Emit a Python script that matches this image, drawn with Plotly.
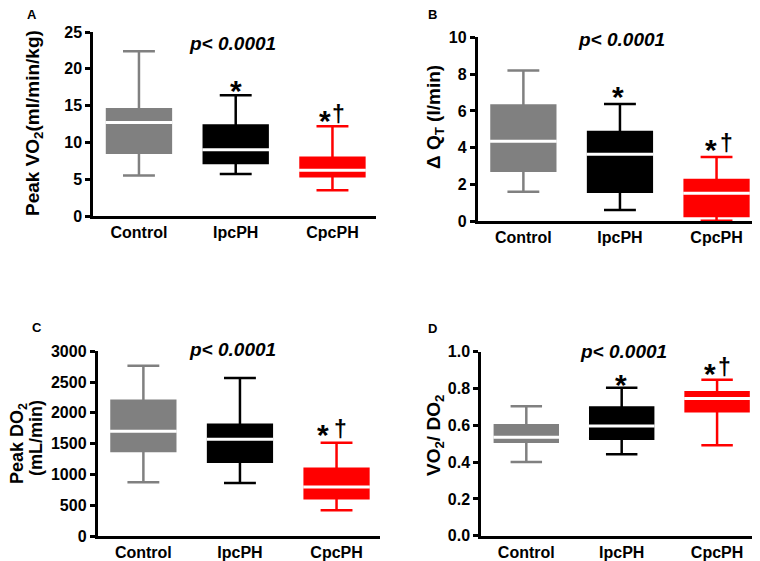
import plotly.graph_objects as go

# the page body has an 8px margin, so the figure is drawn 8px smaller and
# reference pixel positions are shifted by that offset
OFF = 8
W, H = 760 - OFF, 561 - OFF

categories = ["Control", "IpcPH", "CpcPH"]
colors = ["#808080", "#000000", "#ff0000"]

# Panel A: Peak VO2 (ml/min/kg)
a_min = [5.5, 5.7, 3.5]
a_q1 = [8.6, 7.2, 5.4]
a_med = [12.7, 9.0, 6.2]
a_q3 = [14.5, 12.3, 7.9]
a_max = [22.4, 16.4, 12.2]
a_ticks = [0, 5, 10, 15, 20, 25]

# Panel B: delta QT (l/min)
b_min = [1.6, 0.62, 0.03]
b_q1 = [2.75, 1.6, 0.29]
b_med = [4.35, 3.65, 1.52]
b_q3 = [6.3, 4.85, 2.25]
b_max = [8.2, 6.37, 3.5]
b_ticks = [0, 2, 4, 6, 8, 10]

# Panel C: Peak DO2 (mL/min)
c_min = [875, 860, 420]
c_q1 = [1380, 1208, 612]
c_med = [1700, 1570, 796]
c_q3 = [2198, 1809, 1094]
c_max = [2767, 2567, 1516]
c_ticks = [0, 500, 1000, 1500, 2000, 2500, 3000]

# Panel D: VO2 / DO2
d_min = [0.40, 0.442, 0.491]
d_q1 = [0.511, 0.527, 0.676]
d_med = [0.535, 0.596, 0.746]
d_q3 = [0.600, 0.697, 0.779]
d_max = [0.703, 0.804, 0.848]
d_ticks = [0.0, 0.2, 0.4, 0.6, 0.8, 1.0]

p_text = "p< 0.0001"

FONT = "Liberation Sans, Arial, sans-serif"


def px(x):
    return (x - OFF) / W


def py(y):
    return 1 - (y - OFF) / H


panels = [
    dict(name="A", mins=a_min, q1=a_q1, med=a_med, q3=a_q3, maxs=a_max, ticks=a_ticks,
         fmt="",
         dom_x=[px(93), px(376)], dom_y=[py(216), py(32)],
         letter=(32, 14), ptxt=(232, 43),
         titles=[("Peak VO<sub>2</sub>(ml/min/kg)", (34, 123))],
         marks=[("*", (236, 85)), ("*", (325, 114.5)), ("†", (338, 114))]),
    dict(name="B", mins=b_min, q1=b_q1, med=b_med, q3=b_q3, maxs=b_max, ticks=b_ticks,
         fmt="",
         dom_x=[px(477.5), px(760)], dom_y=[py(221.3), py(37.3)],
         letter=(432, 14), ptxt=(621, 40),
         titles=[("Δ Q<sub>T</sub> (l/min)", (435, 117))],
         marks=[("*", (618, 90)), ("*", (711, 144)), ("†", (726, 143))]),
    dict(name="C", mins=c_min, q1=c_q1, med=c_med, q3=c_q3, maxs=c_max, ticks=c_ticks,
         fmt="",
         dom_x=[px(97.5), px(380)], dom_y=[py(536), py(351.3)],
         letter=(37, 327), ptxt=(232, 349),
         titles=[("Peak DO<sub>2</sub>", (18, 444)), ("(mL/min)", (36, 438))],
         marks=[("*", (323, 428.5)), ("†", (340.5, 428.5))]),
    dict(name="D", mins=d_min, q1=d_q1, med=d_med, q3=d_q3, maxs=d_max, ticks=d_ticks,
         fmt=".1f",
         dom_x=[px(481), px(760)], dom_y=[py(535.7), py(351.7)],
         letter=(432, 328), ptxt=(623, 351),
         titles=[("VO<sub>2</sub>/ DO<sub>2</sub>", (435, 436))],
         marks=[("*", (621, 378)), ("*", (710, 367)), ("†", (724.5, 367))]),
]

BOXW = 0.66
fig = go.Figure()
annotations = []
layout = dict(
    width=W, height=H, margin=dict(l=0, r=0, t=0, b=0, pad=0), autosize=False,
    paper_bgcolor="white", plot_bgcolor="white", showlegend=False,
    font=dict(family=FONT, color="black"),
)

for k, p in enumerate(panels):
    n = k + 1
    xa = "x" if n == 1 else f"x{n}"
    ya = "y" if n == 1 else f"y{n}"
    for i, cat in enumerate(categories):
        fig.add_trace(go.Box(
            x=[i], q1=[p["q1"][i]], median=[p["med"][i]], q3=[p["q3"][i]],
            lowerfence=[p["mins"][i]], upperfence=[p["maxs"][i]],
            width=BOXW, whiskerwidth=0.5, fillcolor=colors[i],
            line=dict(color=colors[i], width=2.5), boxpoints=False,
            xaxis=xa, yaxis=ya, hoverinfo="skip",
        ))
        pad = 0.015
        fig.add_trace(go.Scatter(
            x=[i - BOXW / 2 - pad, i + BOXW / 2 + pad], y=[p["med"][i], p["med"][i]],
            mode="lines", line=dict(color="white", width=3),
            xaxis=xa, yaxis=ya, hoverinfo="skip",
        ))
    for txt, (mx, my) in p["marks"]:
        if txt == "*":
            size, shift = 30, -6
        else:
            size, shift = 23, 0
        annotations.append(dict(
            x=px(mx), y=py(my), xref="paper", yref="paper", text=txt, showarrow=False,
            xanchor="center", yanchor="middle", yshift=shift,
            font=dict(family=FONT, size=size, color="black", weight="bold"),
        ))
    yr = [p["ticks"][0], p["ticks"][-1]]
    layout["xaxis" if n == 1 else f"xaxis{n}"] = dict(
        domain=p["dom_x"], range=[-0.475, 2.45], anchor=ya, automargin=False,
        showline=True, linecolor="black", linewidth=2.5,
        tickvals=[0, 1, 2], ticktext=categories, ticks="",
        tickfont=dict(family=FONT, size=16, color="black", weight="bold"),
        showgrid=False, zeroline=False, fixedrange=True,
    )
    layout["yaxis" if n == 1 else f"yaxis{n}"] = dict(
        domain=p["dom_y"], range=yr, anchor=xa, automargin=False,
        showline=True, linecolor="black", linewidth=2.5,
        tickvals=p["ticks"], tickformat=p["fmt"], ticks="outside", ticklen=5,
        tickwidth=2.5, tickcolor="black",
        tickfont=dict(family=FONT, size=16, color="black", weight="bold"),
        showgrid=False, zeroline=False, fixedrange=True,
    )
    lx, ly = p["letter"]
    annotations.append(dict(
        x=px(lx), y=py(ly), xref="paper", yref="paper", text=p["name"],
        showarrow=False, xanchor="center", yanchor="middle",
        font=dict(family=FONT, size=13, color="black", weight="bold"),
    ))
    tx, ty = p["ptxt"]
    annotations.append(dict(
        x=px(tx), y=py(ty), xref="paper", yref="paper", text=p_text,
        showarrow=False, xanchor="center", yanchor="middle",
        font=dict(family=FONT, size=19, color="black", weight="bold", style="italic"),
    ))
    for ttl, (hx, hy) in p["titles"]:
        annotations.append(dict(
            x=px(hx), y=py(hy), xref="paper", yref="paper", text=ttl,
            showarrow=False, xanchor="center", yanchor="middle", textangle=-90,
            font=dict(family=FONT, size=19 if n != 3 else 18, color="black", weight="bold"),
        ))

layout["annotations"] = annotations
fig.update_layout(**layout)
fig.write_html("out.html")
